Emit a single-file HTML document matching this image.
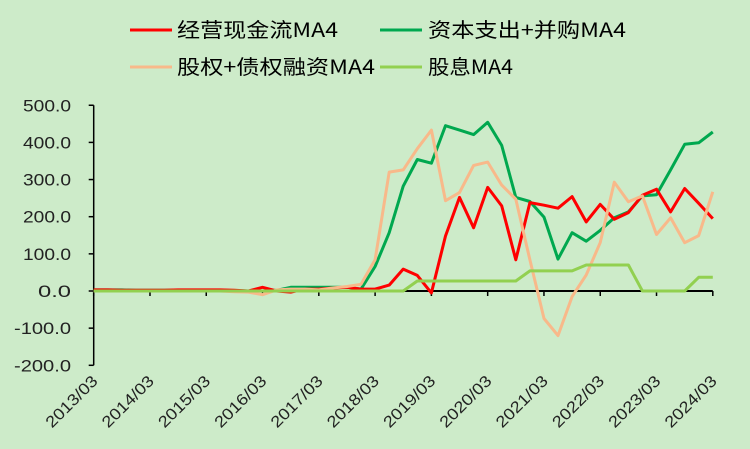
<!DOCTYPE html>
<html><head><meta charset="utf-8">
<style>
html,body{margin:0;padding:0;background:#cdebc9;}
svg{display:block;font-family:"Liberation Sans","Noto Sans CJK SC",sans-serif;}
</style></head>
<body>
<svg id="chart" width="750" height="449" viewBox="0 0 750 449" xmlns="http://www.w3.org/2000/svg">
<rect width="750" height="449" fill="#cdebc9"/>
<g font-family="'Noto Sans CJK SC',sans-serif" font-size="20" fill="#000">
 <g>
  <line x1="130" y1="30" x2="172" y2="30" stroke="#ff0000" stroke-width="3"/>
  <text x="177" y="37" textLength="161" lengthAdjust="spacingAndGlyphs">经营现金流MA4</text>
 </g>
 <g>
  <line x1="380" y1="30" x2="422" y2="30" stroke="#00a84f" stroke-width="3"/>
  <text x="428" y="37" textLength="198" lengthAdjust="spacingAndGlyphs">资本支出+并购MA4</text>
 </g>
 <g>
  <line x1="130" y1="67" x2="172" y2="67" stroke="#f8b98a" stroke-width="3"/>
  <text x="177" y="74" textLength="198" lengthAdjust="spacingAndGlyphs">股权+债权融资MA4</text>
 </g>
 <g>
  <line x1="380" y1="67" x2="422" y2="67" stroke="#92d050" stroke-width="3"/>
  <text x="428" y="74" textLength="85" lengthAdjust="spacingAndGlyphs">股息MA4</text>
 </g>
</g>
<g id="axes"></g>
<g id="series"></g>
</svg>
<script>
const categories = ["2013/03","2013/06","2013/09","2013/12","2014/03","2014/06","2014/09","2014/12","2015/03","2015/06","2015/09","2015/12","2016/03","2016/06","2016/09","2016/12","2017/03","2017/06","2017/09","2017/12","2018/03","2018/06","2018/09","2018/12","2019/03","2019/06","2019/09","2019/12","2020/03","2020/06","2020/09","2020/12","2021/03","2021/06","2021/09","2021/12","2022/03","2022/06","2022/09","2022/12","2023/03","2023/06","2023/09","2023/12","2024/03"];
const operatingCF = [3,3,2,2,2,2,3,3,3,3,2,0,10,0,-3,5,5,8,10,5,5,16,59,42,-5,148,252,170,279,229,84,238,231,223,254,186,233,193,211,258,274,213,276,236,195];
const capexMA = [3,3,3,2,2,2,2,2,2,2,1,0,0,2,10,10,10,10,10,5,66,157,282,354,344,445,433,421,454,392,252,241,199,86,157,134,163,197,213,256,259,326,395,399,428];
const financing = [0,0,0,0,0,0,0,0,0,0,-2,-3,-10,3,5,5,3,8,12,18,84,320,326,383,433,243,265,338,347,285,247,84,-74,-120,-15,43,130,293,240,256,152,197,130,149,267];
const dividend = [0,0,0,0,0,0,0,0,0,0,0,0,0,0,0,0,0,0,0,0,0,0,0,27,27,27,27,27,27,27,27,54,54,54,54,70,70,70,70,0,0,0,0,37,37];
const yTicks = [-200,-100,0,100,200,300,400,500];
const yTickLabels = ["-200.0","-100.0","0.0","100.0","200.0","300.0","400.0","500.0"];
const yearLabels = ["2013/03","2014/03","2015/03","2016/03","2017/03","2018/03","2019/03","2020/03","2021/03","2022/03","2023/03","2024/03"];

const NS="http://www.w3.org/2000/svg";
const X0=93.7, X1=712.8, Y0=291, PX100=37.15;
function xScale(i){return X0+(X1-X0)*i/(categories.length-1);}
function yScale(v){return Y0-v*PX100/100;}
function mk(tag,attrs,parent){const e=document.createElementNS(NS,tag);for(const k in attrs)e.setAttribute(k,attrs[k]);parent.appendChild(e);return e;}

const axes=document.getElementById('axes');
const yAxis=mk('line',{x1:X0,y1:yScale(500),x2:X0,y2:yScale(-200),stroke:'#000','stroke-width':1.5},axes);


yTicks.forEach((t,k)=>{
  const tk=mk('line',{x1:X0-5,y1:yScale(t),x2:X0,y2:yScale(t),stroke:'#000','stroke-width':1.5},axes);
  
  
  const txt=yTickLabels[k];
  const len=txt.length===6?57:(txt.length===5?48:33);
  const lb=mk('text',{x:71,y:yScale(t)+6,'text-anchor':'end','font-size':17,fill:'#222',textLength:len,lengthAdjust:'spacingAndGlyphs'},axes);
  lb.textContent=txt;
  
  
});
const xAxis=mk('line',{x1:X0,y1:Y0,x2:X1,y2:Y0,stroke:'#000','stroke-width':2},axes);


yearLabels.forEach(lbTxt=>{
  const i=categories.indexOf(lbTxt);
  const x=xScale(i);
  const tk=mk('line',{x1:x,y1:Y0,x2:x,y2:Y0+5,stroke:'#000','stroke-width':1.5},axes);
  
  
  const lb=mk('text',{x:x+5,y:382,'text-anchor':'end','font-size':16,fill:'#222',textLength:66,lengthAdjust:'spacingAndGlyphs',transform:`rotate(-45 ${x+5} 382)`},axes);
  lb.textContent=lbTxt;
  
  
});

const seriesG=document.getElementById('series');
function drawLine(arr,color,name){
  const pts=arr.map((v,i)=>xScale(i).toFixed(1)+','+yScale(v).toFixed(1)).join(' ');
  const p=mk('polyline',{points:pts,fill:'none',stroke:color,'stroke-width':3,'stroke-linejoin':'round'},seriesG);
  
  
}
drawLine(capexMA,'#00a84f','capex-line');
drawLine(operatingCF,'#ff0000','operating-cf-line');
drawLine(financing,'#f8b98a','financing-line');
drawLine(dividend,'#92d050','dividend-line');
</script>
</body></html>
